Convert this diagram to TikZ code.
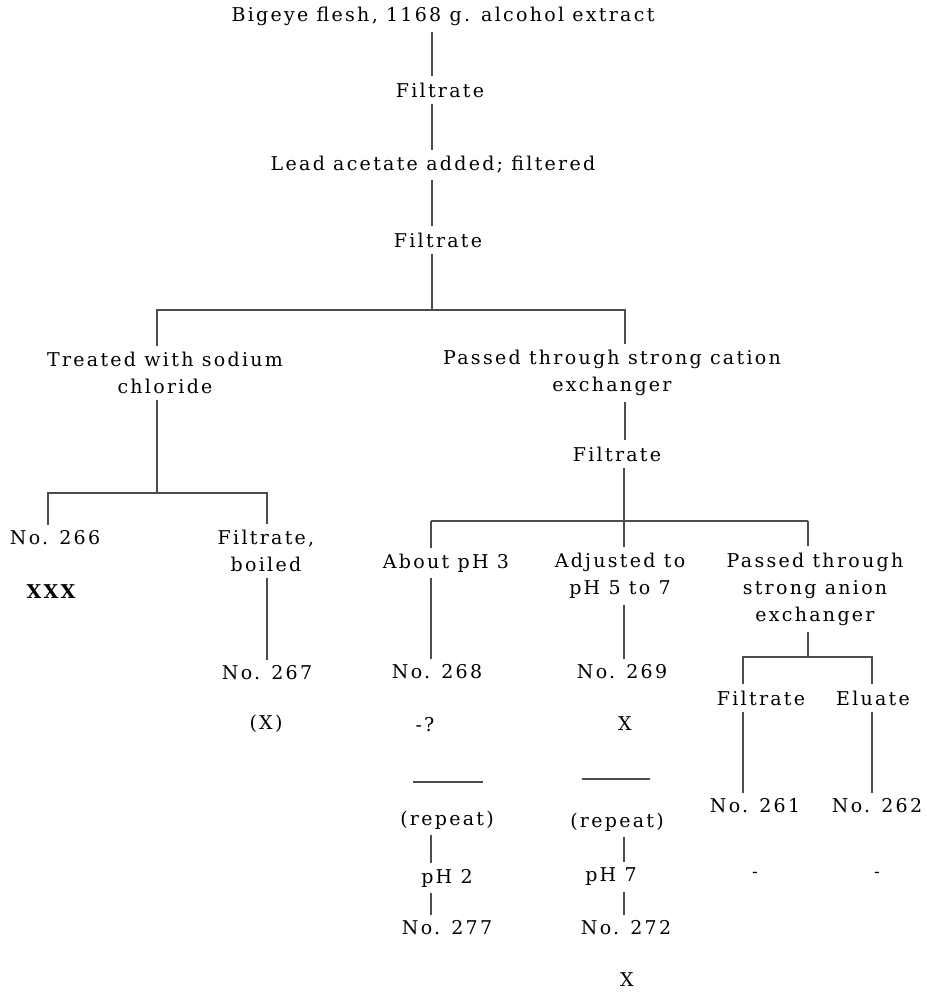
\documentclass[tikz,border=0pt]{standalone}
\usepackage{fontspec}
\setmainfont[LetterSpace=12]{DejaVu Serif}
\usetikzlibrary{calc}

\tikzset{
  lbl/.style={font=\fontsize{19}{27}\selectfont, inner sep=3pt, align=center, text=black},
  link/.style={draw=black!70, line width=1.1pt, shorten >=3pt, shorten <=3pt},
  bar/.style={draw=black!70, line width=1.3pt}
}

\begin{document}
\begin{tikzpicture}[x=1pt, y=-1pt]
          \useasboundingbox (0,0) rectangle (926,992);

          % column axes
          \coordinate (axA) at (432,0);
          \coordinate (axB) at (625,0);
          \coordinate (b1l) at (157,310);
          \coordinate (b1r) at (625,310);
          \coordinate (b2l) at (48,493);
          \coordinate (b2r) at (267,493);
          \coordinate (b3l) at (431,521);
          \coordinate (b3m) at (624,521);
          \coordinate (b3r) at (808,521);
          \coordinate (b4l) at (743,657);
          \coordinate (b4r) at (872,657);

          \node[lbl] (title) at (443,16) {Bigeye flesh, 1168 g. alcohol extract};
          \node[lbl] (filtA) at (440,90) {Filtrate};
          \node[lbl] (lead) at (433,165) {Lead acetate added; filtered};
          \node[lbl] (filtB) at (438,240) {Filtrate};

          \node[lbl] (treat) at (165,373) {Treated with sodium\\chloride};
          \node[lbl] (cation) at (612,373) {Passed through strong cation\\exchanger};

          \node[lbl] (no266) at (55,538) {No. 266};
          \node[lbl, font=\fontsize{19}{27}\selectfont\bfseries] (xxx) at (51,592) {XXX};
          \node[lbl] (filtC) at (266,551) {Filtrate,\\boiled};
          \node[lbl] (no267) at (267,673) {No. 267};
          \node[lbl] (x267) at (266,724) {(X)};

          \node[lbl] (filtD) at (617,454) {Filtrate};
          \node[lbl] (about) at (446,563) {About pH 3};
          \node[lbl] (adj) at (620,576) {Adjusted to\\pH 5 to 7};
          \node[lbl] (anion) at (815,589) {Passed through\\strong anion\\exchanger};

          \node[lbl] (no268) at (437,672) {No. 268};
          \node[lbl] (q268) at (425,725) {-?};
          \node[lbl] (rep1) at (447,820) {(repeat)};
          \node[lbl] (ph2) at (447,878) {pH 2};
          \node[lbl] (no277) at (447,928) {No. 277};

          \node[lbl] (no269) at (622,672) {No. 269};
          \node[lbl] (x269) at (625,724) {X};
          \node[lbl] (rep2) at (617,822) {(repeat)};
          \node[lbl] (ph7) at (611,877) {pH 7};
          \node[lbl] (no272) at (626,928) {No. 272};
          \node[lbl] (x272) at (627,980) {X};

          \node[lbl] (filtE) at (761,698) {Filtrate};
          \node[lbl] (elu) at (873,698) {Eluate};
          \node[lbl] (no261) at (755,806) {No. 261};
          \node[lbl] (no262) at (877,806) {No. 262};
          \node[lbl, font=\fontsize{17}{17}\selectfont] (d261) at (755,875) {-};
          \node[lbl, font=\fontsize{17}{17}\selectfont] (d262) at (877,875) {-};

          % main trunk
          \draw[link] (title.south -| axA) -- (filtA.north -| axA);
          \draw[link] (filtA.south -| axA) -- (lead.north -| axA);
          \draw[link] (lead.south -| axA) -- (filtB.north -| axA);
          \draw[link, shorten >=0pt] (filtB.south -| axA) -- (axA |- b1l);
          \draw[bar, shorten <=3pt, shorten >=3pt] (treat.north -| b1l) -- (b1l) -- (b1r) -- (cation.north -| b1r);

          % sodium chloride branch
          \draw[link, shorten >=0pt] (treat.south -| b1l) -- (b1l |- b2l);
          \draw[bar, shorten <=3pt, shorten >=3pt] (no266.north -| b2l) -- (b2l) -- (b2r) -- (filtC.north -| b2r);
          \draw[link] (filtC.south -| b2r) -- (no267.north -| b2r);

          % cation exchanger branch
          \draw[link] (cation.south -| axB) -- (filtD.north -| axB);
          \draw[link, shorten >=0pt] (filtD.south -| b3m) -- (b3m);
          \draw[bar] (b3l) -- (b3r);
          \draw[link, shorten <=0pt] (b3l) -- (about.north -| b3l);
          \draw[link, shorten <=0pt] (b3m) -- (adj.north -| b3m);
          \draw[link, shorten <=0pt] (b3r) -- (anion.north -| b3r);

          \draw[link] (about.south -| b3l) -- (no268.north -| b3l);
          \draw[link] (adj.south -| b3m) -- (no269.north -| b3m);

          \draw[bar] (413,782) -- (483,782);
          \draw[bar] (582,779) -- (650,779);
          \draw[link] (rep1.south -| b3l) -- (ph2.north -| b3l);
          \draw[link] (ph2.south -| b3l) -- (no277.north -| b3l);
          \draw[link] (rep2.south -| b3m) -- (ph7.north -| b3m);
          \draw[link] (ph7.south -| b3m) -- (no272.north -| b3m);

          % anion exchanger branch
          \draw[link, shorten >=0pt] (anion.south -| b3r) -- (b3r |- b4l);
          \draw[bar, shorten <=3pt, shorten >=3pt] (filtE.north -| b4l) -- (b4l) -- (b4r) -- (elu.north -| b4r);
          \draw[link] (filtE.south -| b4l) -- (no261.north -| b4l);
          \draw[link] (elu.south -| b4r) -- (no262.north -| b4r);

        \end{tikzpicture}
\end{document}
